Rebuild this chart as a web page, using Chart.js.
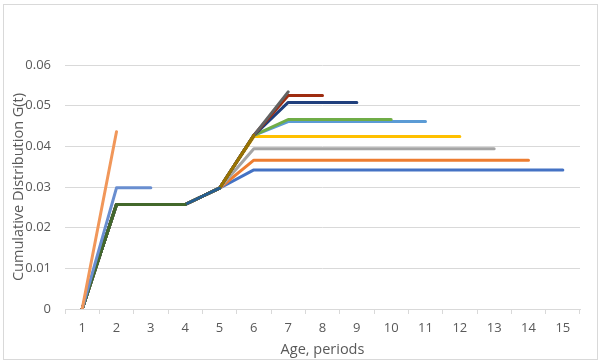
<!DOCTYPE html>
<html>
<head>
<meta charset="utf-8">
<script src="https://cdn.jsdelivr.net/npm/chart.js@4"></script>
<style>
  body { margin: 0; background: #fff; }
  .wrap { position: relative; width: 600px; height: 364px; }
  .frame {
    position: absolute; left: 3px; top: 4px; width: 593px; height: 354px;
    border: 1px solid #d9d9d9; box-sizing: content-box;
  }
  canvas { position: absolute; left: 0; top: 0; }
</style>
</head>
<body>
<div class="wrap">
  <div class="frame"></div>
  <canvas id="cdfChart" width="600" height="364"></canvas>
</div>
<script>
// age periods on the x axis
const periods = ["1", "2", "3", "4", "5", "6", "7", "8", "9", "10", "11", "12", "13", "14", "15"];
const yTicks = [0, 0.01, 0.02, 0.03, 0.04, 0.05, 0.06];

// one series per horizon
const g15 = [0, 0.0257, 0.0257, 0.0257, 0.0297, 0.0342, 0.0342, 0.0342, 0.0342, 0.0342, 0.0342, 0.0342, 0.0342, 0.0342, 0.0342];
const g14 = [0, 0.0257, 0.0257, 0.0257, 0.0297, 0.0366, 0.0366, 0.0366, 0.0366, 0.0366, 0.0366, 0.0366, 0.0366, 0.0366];
const g13 = [0, 0.0257, 0.0257, 0.0257, 0.0297, 0.0394, 0.0394, 0.0394, 0.0394, 0.0394, 0.0394, 0.0394, 0.0394];
const g12 = [0, 0.0257, 0.0257, 0.0257, 0.0297, 0.0424, 0.0424, 0.0424, 0.0424, 0.0424, 0.0424, 0.0424];
const g11 = [0, 0.0257, 0.0257, 0.0257, 0.0297, 0.0427, 0.0461, 0.0461, 0.0461, 0.0461, 0.0461];
const g10 = [0, 0.0257, 0.0257, 0.0257, 0.0297, 0.0427, 0.0466, 0.0466, 0.0466, 0.0466];
const g9 = [0, 0.0257, 0.0257, 0.0257, 0.0297, 0.0427, 0.0508, 0.0508, 0.0508];
const g8 = [0, 0.0257, 0.0257, 0.0257, 0.0297, 0.0427, 0.0525, 0.0525];
const g7 = [0, 0.0257, 0.0257, 0.0257, 0.0297, 0.0427, 0.0534];
const g6 = [0, 0.0257, 0.0257, 0.0257, 0.0297, 0.0427];
const g5 = [0, 0.0257, 0.0257, 0.0257, 0.0297];
const g4 = [0, 0.0257, 0.0257, 0.0257];
const g3 = [0, 0.0298, 0.0298];
const g2 = [0, 0.0436];

const series = [g15, g14, g13, g12, g11, g10, g9, g8, g7, g6, g5, g4, g3, g2];
const colors = [
  "#4472c4", "#ed7d31", "#a5a5a5", "#ffc000", "#5b9bd5", "#70ad47", "#203f7c",
  "#9e2c10", "#636363", "#997300", "#255e91", "#43682b", "#698ed0", "#f1975a",
];

const textColor = "#595959";
const gridColor = "#d9d9d9";
const font = { family: "'Open Sans', sans-serif", size: 13 };
const titleFont = { family: "'Open Sans', sans-serif", size: 14.5 };

const datasets = series.map((vals, i) => ({
  label: "Series " + (i + 1),
  data: vals,
  borderColor: colors[i],
  backgroundColor: colors[i],
  borderWidth: 3,
  borderCapStyle: "round",
  borderJoinStyle: "round",
  pointRadius: 0,
  tension: 0,
  fill: false,
  order: series.length - i, // later series drawn on top, like Excel
}));

const ctx = document.getElementById("cdfChart").getContext("2d");
new Chart(ctx, {
  type: "line",
  data: { labels: periods, datasets },
  options: {
    responsive: false,
    animation: false,
    devicePixelRatio: 1,
    layout: { padding: { left: 0, right: 20, top: 65, bottom: 0 } },
    plugins: { legend: { display: false }, tooltip: { enabled: false } },
    scales: {
      x: {
        offset: true,
        grid: { offset: true, drawOnChartArea: false, tickLength: 5, color: gridColor },
        border: { color: gridColor },
        ticks: { color: textColor, font, padding: 6, maxRotation: 0 },
        title: {
          display: true,
          text: "Age, periods",
          color: textColor,
          font: titleFont,
          padding: { top: 0, bottom: 5 },
        },
        afterFit: (scale) => { scale.height = 364 - 309; },
      },
      y: {
        min: 0,
        max: 0.06,
        afterBuildTicks: (scale) => { scale.ticks = yTicks.map((v) => ({ value: v })); },
        grid: { color: gridColor, drawTicks: false },
        border: { display: false },
        ticks: { color: textColor, font, padding: 14 },
        title: {
          display: true,
          text: "Cumulative Distribution G(t)",
          color: textColor,
          font: titleFont,
          padding: { top: 10, bottom: 0 },
        },
        afterFit: (scale) => { scale.width = 65; },
      },
    },
  },
});
</script>
</body>
</html>
